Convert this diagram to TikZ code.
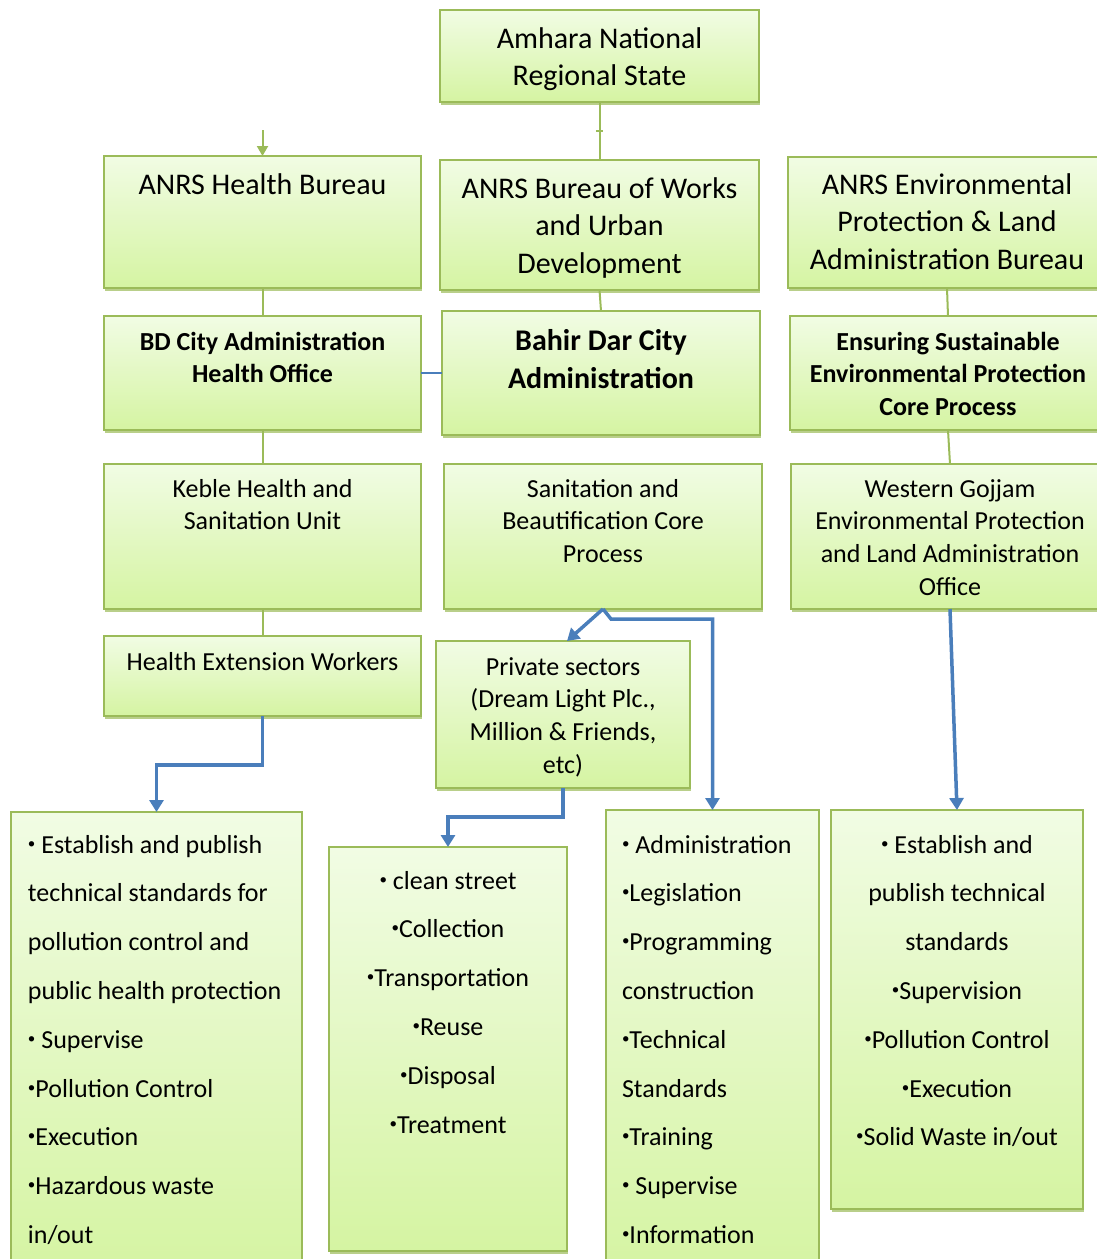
\documentclass[tikz,border=0pt]{standalone}
\usepackage{fontspec}
\setmainfont{Carlito}
\usetikzlibrary{arrows.meta,shadows,calc}
\definecolor{gborder}{HTML}{9BBB59}
\definecolor{gtop}{HTML}{F1FCE4}
\definecolor{gbot}{HTML}{D5F4A2}
\definecolor{bl}{HTML}{4A7EBB}
\tikzset{
  box/.style={draw=gborder, line width=1.5pt, top color=gtop, bottom color=gbot, inner sep=0pt, outer sep=0pt,
    drop shadow={shadow xshift=0.5pt, shadow yshift=-2.5pt, fill=gborder, opacity=0.7}},
  gline/.style={draw=gborder, line width=2pt},
  bline/.style={draw=bl, line width=2pt},
  barrow/.style={draw=bl, line width=3.5pt, -{Triangle[width=14pt,length=12pt]}},
}
% #1 name, #2 x1, #3 y1, #4 x2, #5 y2, #6 first baseline, #7 setup, #8 text
\newcommand{\bx}[8]{\node[box] (#1) at ({(#2+#4)/2},{(#3+#5)/2}) {\parbox[c][\dimexpr#5pt-#3pt\relax][t]{\dimexpr#4pt-#2pt\relax}{#7\noindent\rule{0pt}{\dimexpr#6pt-#3pt\relax}#8}};}
\newcommand{\cbig}{\centering\fontsize{30}{37.7}\selectfont}
\newcommand{\cbigb}{\centering\bfseries\fontsize{30}{38}\selectfont}
\newcommand{\cmid}{\centering\fontsize{26}{32.7}\selectfont}
\newcommand{\cmidb}{\centering\bfseries\fontsize{26}{32.7}\selectfont}
\newcommand{\clist}{\centering\fontsize{26}{48.8}\selectfont}
\newcommand{\llist}{\raggedright\leftskip=17pt\fontsize{26}{48.8}\selectfont}
\newcommand{\bu}{\raisebox{5pt}{\fontsize{15}{15}\selectfont •}}
\begin{document}
\begin{tikzpicture}[x=1pt,y=-1pt]
\useasboundingbox (0,0) rectangle (1097,1259);
\clip (0,0) rectangle (1097,1259);
% top
\bx{amhara}{440}{10}{759}{102}{48}{\cbig}{Amhara National\\Regional State}
% row 1
\bx{hb}{104}{156}{421}{288}{194}{\cbig}{ANRS Health Bureau}
\bx{works}{440}{160}{759}{290}{198}{\cbig}{ANRS Bureau of Works\\and Urban\\Development}
\bx{env}{788}{157}{1106}{288}{194}{\cbig}{ANRS Environmental\\Protection \& Land\\Administration Bureau}
% row 2
\bx{bdh}{104}{316}{421}{430}{350}{\cmidb}{BD City Administration\\Health Office}
\bx{bdc}{442}{311}{760}{435}{350}{\cbigb}{Bahir Dar City\\Administration}
\bx{ens}{790}{316}{1106}{430}{350}{\cmidb}{Ensuring Sustainable\\Environmental Protection\\Core Process}
% row 3
\bx{keble}{104}{464}{421}{609}{497}{\cmid}{Keble Health and\\Sanitation Unit}
\bx{san}{444}{464}{762}{609}{497}{\cmid}{Sanitation and\\Beautification Core\\Process}
\bx{west}{791}{464}{1109}{609}{497}{\cmid}{Western Gojjam\\Environmental Protection\\and Land Administration\\Office}
% row 4
\bx{hew}{104}{636}{421}{716}{670}{\cmid}{Health Extension Workers}
\bx{priv}{436}{641}{690}{788}{675}{\cmid}{Private sectors\\(Dream Light Plc.,\\Million \& Friends,\\etc)}
% bottom lists
\bx{lb}{11}{812}{302}{1275}{853}{\llist}{\bu\ Establish and publish\\technical standards for\\pollution control and\\public health protection\\\bu\ Supervise\\\bu Pollution Control\\\bu Execution\\\bu Hazardous waste\\in/out}
\bx{mlb}{329}{847}{567}{1251}{889}{\clist}{\bu\ clean street\\\bu Collection\\\bu Transportation\\\bu Reuse\\\bu Disposal\\\bu Treatment}
\bx{mr}{606}{810}{819}{1275}{853}{\raggedright\leftskip=16pt\fontsize{26}{48.8}\selectfont}{\bu\ Administration\\\bu Legislation\\\bu Programming\\construction\\\bu Technical\\Standards\\\bu Training\\\bu\ Supervise\\\bu Information}
\bx{rb}{831}{810}{1083}{1209}{853}{\clist}{\bu\ Establish and\\publish technical\\standards\\\bu Supervision\\\bu Pollution Control\\\bu Execution\\\bu Solid Waste in/out}
% green connectors
\draw[gline] (amhara.south) -- (works.north);
\coordinate (tick) at ($(amhara.south)!0.5!(works.north)$);
\draw[gline, line width=1.2pt] ([xshift=-3.5pt]tick) -- ([xshift=3.5pt]tick);
\coordinate (hbin) at (262.5,130);
\draw[gline, -{Triangle[width=11pt,length=10pt]}] (hbin) -- (hb.north);
\draw[gline] (hb.south) -- (bdh.north);
\draw[gline] (works.south) -- (bdc.north);
\draw[gline] (env.south) -- (ens.north);
\draw[gline] (bdh.south) -- (keble.north);
\draw[gline] (ens.south) -- (west.north);
\draw[gline] (keble.south) -- (hew.north);
% blue connectors
\draw[bline] (bdh.east) -- (bdc.west);
\draw[barrow] (hew.south) -- ++(0,49) -| (lb.north);
\draw[barrow] (san.south) -- ([xshift=4pt]priv.north);
\draw[barrow] (san.south) -- ++(8,10) -| (mr.north);
\draw[barrow] (priv.south) -- ++(0,29) -| (mlb.north);
\draw[barrow] (west.south) -- (rb.north);
\end{tikzpicture}
\end{document}
